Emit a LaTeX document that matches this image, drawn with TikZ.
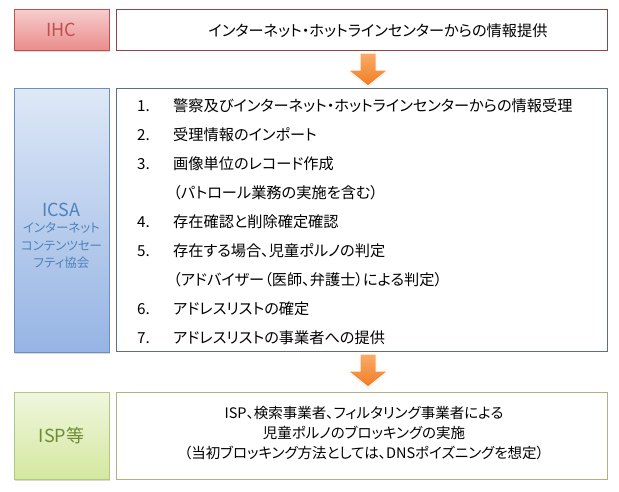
\documentclass[tikz,border=0pt]{standalone}
\usepackage{fontspec}
\setmainfont{Noto Sans CJK JP}[RawFeature=+palt]
\usetikzlibrary{shadows}
\definecolor{ihcB}{RGB}{192,80,77}
\definecolor{ihcT}{RGB}{246,206,206}
\definecolor{ihcBt}{RGB}{234,140,140}
\definecolor{ihcTx}{RGB}{192,80,77}
\definecolor{ihcR}{RGB}{140,70,70}
\definecolor{icB}{RGB}{110,142,190}
\definecolor{icT}{RGB}{222,232,246}
\definecolor{icBt}{RGB}{150,180,228}
\definecolor{icTx}{RGB}{79,129,189}
\definecolor{icR}{RGB}{90,112,135}
\definecolor{ispB}{RGB}{176,200,130}
\definecolor{ispT}{RGB}{240,246,222}
\definecolor{ispBt}{RGB}{212,232,160}
\definecolor{ispTx}{RGB}{110,140,50}
\definecolor{ispR}{RGB}{176,176,128}
\definecolor{arT}{RGB}{250,172,104}
\definecolor{arB}{RGB}{240,124,36}
\begin{document}
\begin{tikzpicture}[x=1pt,y=-1pt,
  labelbox/.style={draw, line width=0.8pt, minimum width=95pt, inner sep=0pt,
    drop shadow={opacity=0.3, shadow xshift=0.8pt, shadow yshift=-1.8pt}},
  contentbox/.style={draw, fill=white, line width=0.8pt, minimum width=491pt, inner sep=0pt},
  bigtxt/.style={font=\fontsize{18}{21}\selectfont},
  smalltxt/.style={font=\fontsize{12.5}{14}\selectfont, text=icTx},
  bodytxt/.style={font=\fontsize{15.2}{18}\selectfont, inner sep=0pt},
  blockarrow/.style={draw=white, line width=1pt, top color=arT, bottom color=arB,
    drop shadow={opacity=0.25, shadow xshift=0pt, shadow yshift=-1pt}}
]
\useasboundingbox (0,0) rectangle (619,491);

% top row
\node[labelbox, draw=ihcB, top color=ihcT, bottom color=ihcBt, text=ihcTx, bigtxt,
      minimum height=41pt] (ihc) at (61.5,29.5) {IHC};
\node[contentbox, draw=ihcR, minimum height=41pt] (ihcr) at (361.5,29.5) {};
\node[bodytxt] (ihct) at (378,31) {インターネット・ホットラインセンターからの情報提供};

% middle row
\node[labelbox, draw=icB, top color=icT, bottom color=icBt,
      minimum height=264pt] (icsa) at (61.5,220) {};
\node[bigtxt, text=icTx, inner sep=0pt] (icsat) at (61.5,210) {ICSA};
\node[smalltxt, inner sep=0pt] (icsa1) at (61.5,228) {インターネット};
\node[smalltxt, inner sep=0pt] (icsa2) at (61.5,245.5) {コンテンツセー};
\node[smalltxt, inner sep=0pt] (icsa3) at (61.5,263) {フティ協会};
\node[contentbox, draw=icR, minimum height=263pt] (icsar) at (361.5,219.5) {};

\node[bodytxt, anchor=west] (n1) at (137,106) {1.};
\node[bodytxt, anchor=west] (t1) at (173,106) {警察及びインターネット・ホットラインセンターからの情報受理};
\node[bodytxt, anchor=west] (n2) at (137,135) {2.};
\node[bodytxt, anchor=west] (t2) at (173,135) {受理情報のインポート};
\node[bodytxt, anchor=west] (n3) at (137,164) {3.};
\node[bodytxt, anchor=west] (t3) at (173,164) {画像単位のレコード作成};
\node[bodytxt, anchor=west] (t3b) at (173,193) {（パトロール業務の実施を含む）};
\node[bodytxt, anchor=west] (n4) at (137,222) {4.};
\node[bodytxt, anchor=west] (t4) at (173,222) {存在確認と削除確定確認};
\node[bodytxt, anchor=west] (n5) at (137,251) {5.};
\node[bodytxt, anchor=west] (t5) at (173,251) {存在する場合、児童ポルノの判定};
\node[bodytxt, anchor=west] (t5b) at (173,280) {（アドバイザー（医師、弁護士）による判定）};
\node[bodytxt, anchor=west] (n6) at (137,309) {6.};
\node[bodytxt, anchor=west] (t6) at (173,309) {アドレスリストの確定};
\node[bodytxt, anchor=west] (n7) at (137,338) {7.};
\node[bodytxt, anchor=west] (t7) at (173,338) {アドレスリストの事業者への提供};

% bottom row
\node[labelbox, draw=ispB, top color=ispT, bottom color=ispBt, text=ispTx, bigtxt,
      minimum height=87pt] (isp) at (61.5,435.5) {ISP等};
\node[contentbox, draw=ispR, minimum height=87pt] (ispr) at (362,435.5) {};
\node[bodytxt, align=center, font=\fontsize{14.5}{20}\selectfont] (ispt) at (364,433)
  {ISP、検索事業者、フィルタリング事業者による\\児童ポルノのブロッキングの実施\\（当初ブロッキング方法としては、DNSポイズニングを想定）};

% block arrows
\coordinate (a1) at (368,53);
\path[blockarrow] (a1) ++(-8,0) -- ++(16,0) -- ++(0,17) -- ++(12,0) -- ++(-20,16)
  -- ++(-20,-16) -- ++(12,0) -- cycle;
\coordinate (a2) at (368,354);
\path[blockarrow] (a2) ++(-8,0) -- ++(16,0) -- ++(0,17) -- ++(12,0) -- ++(-20,16)
  -- ++(-20,-16) -- ++(12,0) -- cycle;
\end{tikzpicture}
\end{document}
